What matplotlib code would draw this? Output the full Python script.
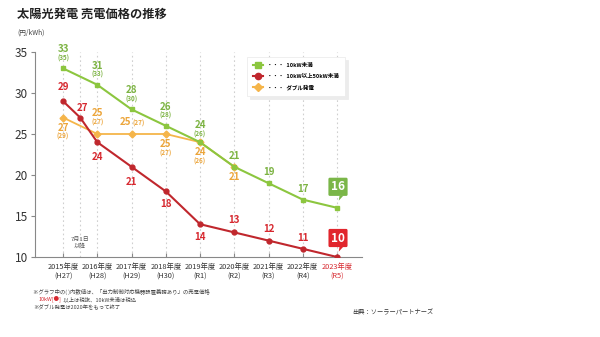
import matplotlib.pyplot as plt
from matplotlib.lines import Line2D
from matplotlib.transforms import offset_copy

plt.rcParams['font.family'] = ['Noto Sans CJK JP', 'DejaVu Sans']

# feed-in tariff (yen/kWh) by fiscal year
years = ['2015年度', '2016年度', '2017年度', '2018年度', '2019年度',
         '2020年度', '2021年度', '2022年度', '2023年度']
eras = ['(H27)', '(H28)', '(H29)', '(H30)', '(R1)', '(R2)', '(R3)', '(R4)', '(R5)']
year_pos = [0, 1, 2, 3, 4, 5, 6, 7, 8]

small_x = [0, 1, 2, 3, 4, 5, 6, 7, 8]
small_y = [33, 31, 28, 26, 24, 21, 19, 17, 16]
small_paren = ['(35)', '(33)', '(30)', '(28)', '(26)', '', '', '', '']

large_x = [0, 0.5, 1, 2, 3, 4, 5, 6, 7, 8]
large_y = [29, 27, 24, 21, 18, 14, 13, 12, 11, 10]

double_x = [0, 1, 2, 3, 4, 5]
double_y = [27, 25, 25, 25, 24, 21]
double_paren = ['(29)', '(27)', '(27)', '(27)', '(26)', '']

GREEN, GREEN_T = '#8cc63f', '#7cb342'
RED, RED_T = '#c0272d', '#d7282f'
ORANGE, ORANGE_T = '#f5b54a', '#eca53a'

fig = plt.figure(figsize=(6, 3.37), dpi=100)
ax = fig.add_axes([35 / 600, 1 - 257 / 337, 327 / 600, 205 / 337])

for x in year_pos + [0.5]:
    ax.axvline(x, color='#cfcfcf', lw=0.8, ls=(0, (1.5, 2.5)), zorder=0)

ax.plot(double_x, double_y, color=ORANGE, lw=1.3, marker='D', ms=3.5, zorder=2)
ax.plot(small_x, small_y, color=GREEN, lw=1.5, marker='s', ms=3.5, zorder=3)
ax.plot(large_x, large_y, color=RED, lw=1.5, marker='o', ms=3.5, zorder=4)


def label(x, y, text, dy, color, size=7, dx=0, weight='bold'):
    ax.annotate(text, (x, y), xytext=(dx, dy), textcoords='offset pixels',
                ha='center', va='center', fontsize=size, color=color,
                fontweight=weight)


# 10kW未満: labels above the markers (no label on the last point)
for x, y, p in zip(small_x[:-1], small_y[:-1], small_paren[:-1]):
    if p:
        up = 17 if x == 4 else 19
        label(x, y, str(y), up, GREEN_T)
        label(x, y, p, up - 9, GREEN_T, size=4.5)
    else:
        label(x, y, str(y), 11, GREEN_T)

# 10kW以上50kW未満
red_dy = [14, 10, -15, -15, -13, -13, 12, 12, 11]
for x, y, dy in zip(large_x[:-1], large_y[:-1], red_dy):
    label(x, y, str(y), dy, RED_T, dx=2 if x == 0.5 else 0)

# ダブル発電
for x, y, p in zip(double_x, double_y, double_paren):
    if x == 2:
        ax.annotate(str(y), (x, y), xytext=(0, 12), textcoords='offset pixels',
                    ha='right', va='center', fontsize=7, color=ORANGE_T,
                    fontweight='bold')
        ax.annotate(p, (x, y), xytext=(1, 11), textcoords='offset pixels',
                    ha='left', va='center', fontsize=4.5, color=ORANGE_T,
                    fontweight='bold')
    elif x == 1:
        label(x, y, str(y), 21, ORANGE_T)
        label(x, y, p, 12, ORANGE_T, size=4.5)
    else:
        label(x, y, str(y), -10, ORANGE_T)
        if p:
            label(x, y, p, -19, ORANGE_T, size=4.5)

# latest-year callouts with a small tail
tail = [(-0.5, 0.5), (0.5, 0.5), (-0.7, -0.8), (-0.5, 0.5)]
for y, col, up in [(small_y[-1], '#7ab648', 21), (large_y[-1], '#e1262d', 19)]:
    ax.annotate(str(y), (8, y), xytext=(1, up), textcoords='offset pixels',
                ha='center', va='center', fontsize=8.5, fontweight='bold',
                color='white',
                bbox=dict(boxstyle='round,pad=0.22,rounding_size=0.12',
                          fc=col, ec='none'),
                zorder=6)
    tr = offset_copy(ax.transData, fig=fig, x=4, y=up - 10, units='dots')
    ax.plot(8, y, marker=tail, ms=4.5, color=col, mec='none',
            transform=tr, zorder=6)

ax.text(0.5, 11.7, '7月1日\n以降', ha='center', va='center', fontsize=4.3,
        color='#555555', linespacing=1.2)

ax.set_xlim(-0.82, 8.73)
ax.set_ylim(10, 35)
ax.set_yticks([10, 15, 20, 25, 30, 35])
ax.set_xticks(year_pos)
ax.set_xticklabels([f'{y}\n{e}' for y, e in zip(years, eras)], fontsize=5.3,
                   color='#333333', linespacing=1.4)
ax.get_xticklabels()[-1].set_color(RED_T)
ax.tick_params(axis='x', direction='in', length=3, color='#888888', pad=4)
ax.tick_params(axis='y', direction='out', length=3, color='#888888',
               labelsize=8.5, labelcolor='#333333', pad=2)
for s in ('top', 'right'):
    ax.spines[s].set_visible(False)
for s in ('left', 'bottom'):
    ax.spines[s].set_color('#888888')
    ax.spines[s].set_linewidth(0.8)

handles = [
    Line2D([], [], color=GREEN, marker='s', ms=4.5, lw=1.5),
    Line2D([], [], color=RED, marker='o', ms=4.5, lw=1.5),
    Line2D([], [], color=ORANGE, marker='D', ms=4.5, lw=1.5),
]
leg = fig.legend(handles, ['・・・  10kW未満', '・・・  10kW以上50kW未満', '・・・  ダブル発電'],
                 loc='upper left', bbox_to_anchor=(247 / 600, 1 - 57 / 337),
                 handlelength=1.7, frameon=True, fancybox=False,
                 borderpad=1.1, labelspacing=1.0, handletextpad=0.8,
                 borderaxespad=0, prop={'weight': 'bold', 'size': 4},
                 shadow={'color': '#ececec', 'alpha': 1})
leg.get_frame().set_edgecolor('#ececec')
leg.get_frame().set_linewidth(0.6)

fig.text(17 / 600, 1 - 14 / 337, '太陽光発電 売電価格の推移', fontsize=8.8,
         fontweight='bold', color='#222222', va='center')
fig.text(17 / 600, 1 - 33 / 337, '(円/kWh)', fontsize=4.8, color='#444444',
         va='center')

# footnotes
fig.text(33 / 600, 1 - 292 / 337,
         '※グラフ中の( )内数値は、「出力制御対応機器設置義務あり」の売電価格',
         fontsize=3.9, color='#444444', va='center')
note = fig.text(39 / 600, 1 - 299 / 337, '10kW[●]', fontsize=3.9, color=RED_T,
                va='center')
ax.annotate(' 以上は税抜、10kW未満は税込', xy=(1, 0.5), xycoords=note,
            ha='left', va='center', fontsize=3.9, color='#444444',
            annotation_clip=False)
fig.text(33 / 600, 1 - 307 / 337, '※ダブル発電は2020年をもって終了',
         fontsize=3.9, color='#444444', va='center')
fig.text(352 / 600, 1 - 312 / 337, '出典：ソーラーパートナーズ', fontsize=4.5,
         color='#333333', va='center')

fig.savefig('out.png', dpi=100, facecolor='white')
